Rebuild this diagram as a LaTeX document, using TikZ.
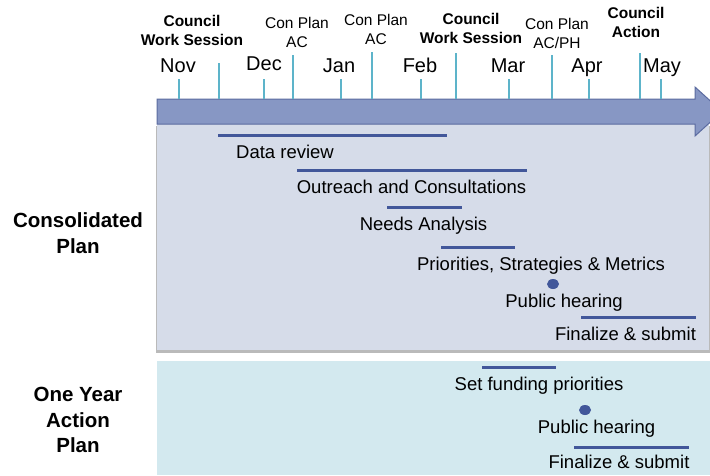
\documentclass[tikz,border=0pt]{standalone}
\usepackage{fontspec}
\setmainfont{Liberation Sans}
\usetikzlibrary{positioning}
\definecolor{arrowfill}{HTML}{8797C4}
\definecolor{arrowline}{HTML}{5B6BA0}
\definecolor{tickblue}{HTML}{5DB4CA}
\definecolor{barblue}{HTML}{42579A}
\definecolor{conpanel}{HTML}{D6DCE9}
\definecolor{actpanel}{HTML}{D3E9EF}

\begin{document}
\begin{tikzpicture}[x=1pt,y=-1pt,
	month/.style={font=\fontsize{20}{24}\selectfont, inner sep=0pt, anchor=base},
	event/.style={font=\fontsize{15.5}{18}\selectfont, inner sep=0pt, anchor=base},
	council/.style={event, font=\fontsize{15.5}{18}\selectfont\bfseries},
	task/.style={font=\fontsize{18.5}{22}\selectfont, inner sep=0pt, anchor=base},
	plan/.style={font=\fontsize{20.5}{25}\selectfont\bfseries, inner sep=0pt, anchor=base},
	bar/.style={line width=3pt, draw=barblue},
	tickline/.style={line width=1.2pt, draw=tickblue},
	dot/.style={fill=barblue}]
		\clip (0,0) rectangle (710,475);
		\fill[black!45, opacity=0.6] (155.5,126) rectangle (710,352.5);
		\fill[conpanel] (157,124) rectangle (709,350);
		\fill[actpanel] (157,361) rectangle (710,475);
		\filldraw[fill=arrowfill, draw=arrowline, line width=1pt] (157,99) -- (695,99) -- (695,87) -- (722,111.5) -- (695,136) -- (695,124) -- (157,124) -- cycle;
		\foreach \x/\t in {179/79, 264/79, 341/79, 421/79, 509/79, 589/79, 661/79, 219/63, 293/55, 372/52, 456/53, 552/55, 640/53}
			\draw[tickline] (\x,\t) -- (\x,99);
		\foreach \x/\y/\m [count=\i] in {178/72/Nov, 264/70/Dec, 339/72/Jan, 420/72/Feb, 508/72/Mar, 587/72/Apr, 662/72/May}
			\node[month] (m\i) at (\x,\y) {\m};
		\foreach \x/\y/\a/\b/\s [count=\i] in {192/26/Council/Work Session/council, 297/28/Con Plan/AC/event, 376/25/Con Plan/AC/event, 471/24/Council/Work Session/council, 557/29/Con Plan/{AC/PH}/event, 636/18/Council/Action/council}
		{
			\node[\s] (ev\i-1) at (\x,\y) {\a};
			\node[\s] (ev\i-2) at (\x,\y+19) {\b};
		}
		\node[plan] (cp1) at (78,227) {Consolidated};
		\node[plan] (cp2) at (78,253) {Plan};
		\node[plan] (ap1) at (78,401) {One Year};
		\node[plan] (ap2) at (78,427) {Action};
		\node[plan] (ap3) at (78,452) {Plan};
		\draw[bar] (218,135) -- (447,135);
		\draw[bar] (297,170) -- (527,170);
		\draw[bar] (387,207) -- (462,207);
		\draw[bar] (441,247) -- (515,247);
		\draw[bar] (581,317) -- (696,317);
		\draw[bar] (482,367) -- (556,367);
		\draw[bar] (574,447) -- (689,447);
		\fill[dot] (553,284) ellipse (6 and 5);
		\fill[dot] (585,410) ellipse (6 and 5);
		\node[task] (data) at (285,158) {Data review};
		\node[task] (outreach) at (411.5,193) {Outreach and Consultations};
		\node[task] (needs) at (423.5,230) {Needs Analysis};
		\node[task] (prio) at (541,270) {Priorities, Strategies \& Metrics};
		\node[task] (ph1) at (564,307) {Public hearing};
		\node[task] (fin1) at (625.5,340) {Finalize \& submit};
		\node[task] (fund) at (539,390) {Set funding priorities};
		\node[task] (ph2) at (596.5,433) {Public hearing};
		\node[task] (fin2) at (619,468) {Finalize \& submit};
		\end{tikzpicture}
\end{document}
